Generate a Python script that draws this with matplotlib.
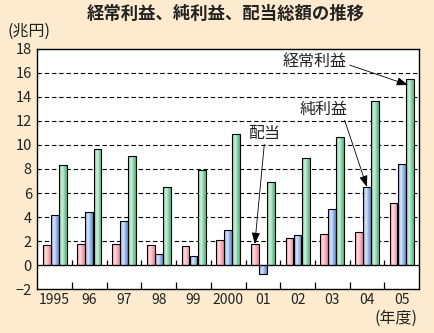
import numpy as np
import matplotlib
matplotlib.use("Agg")
import matplotlib.pyplot as plt
from matplotlib.colors import to_rgb

plt.rcParams['font.family'] = ['Noto Sans CJK JP', 'DejaVu Sans']

years = ["1995", "96", "97", "98", "99", "2000", "01", "02", "03", "04", "05"]
dividends = [1.67, 1.75, 1.75, 1.67, 1.58, 2.08, 1.75, 2.25, 2.6, 2.75, 5.17]
net_profit = [4.17, 4.42, 3.67, 0.92, 0.75, 2.92, -0.75, 2.5, 4.67, 6.5, 8.42]
ordinary_profit = [8.33, 9.67, 9.08, 6.5, 7.92, 10.92, 6.92, 8.92, 10.67, 13.67, 15.5]

title = "経常利益、純利益、配当総額の推移"
ylabel = "(兆円)"
xlabel = "(年度)"

bg = "#FDEBCF"
series = [
    (dividends, "#F08A9B", "#FFDDE2"),
    (net_profit, "#6890D6", "#DCE8FA"),
    (ordinary_profit, "#55B884", "#D4F2E0"),
]

fig = plt.figure(figsize=(4.34, 3.33), dpi=100, facecolor=bg)
ax = fig.add_axes([0.086, 0.1321, 0.8794, 0.7208])
ax.set_facecolor("white")

x = np.arange(len(years))
width = 0.225
offsets = [-0.232, 0.0, 0.235]

t = np.linspace(0, 1, 64)
prof = np.clip(1 - np.abs(t - 0.4) / 0.6, 0, 1) ** 1.3

for (vals, dark, light), off in zip(series, offsets):
    d = np.array(to_rgb(dark))
    l = np.array(to_rgb(light))
    grad = (d[None, :] * (1 - prof[:, None]) + l[None, :] * prof[:, None])[None, :, :]
    bars = ax.bar(x + off, vals, width=width, color=dark, edgecolor="black",
                  linewidth=0.8, zorder=3)
    for b in bars:
        x0 = b.get_x()
        y0 = b.get_y()
        h = b.get_height()
        im = ax.imshow(grad, extent=(x0, x0 + b.get_width(), y0, y0 + h),
                       aspect="auto", zorder=3.5, interpolation="bilinear")
        im.set_clip_path(b)
        b.set_facecolor("none")
        b.set_zorder(4)

ax.set_xlim(-0.5, len(years) - 0.5)
ax.set_ylim(-2, 18)

# grid
for gy in range(2, 18, 2):
    ax.axhline(gy, color="black", lw=0.8, ls=(0, (4, 2.5)), zorder=1)
ax.axhline(0, color="black", lw=0.9, zorder=5)

# ticks
ax.set_yticks(range(-2, 19, 2))
ax.set_yticklabels([f"{v}" if v >= 0 else f"\u2212{abs(v)}" for v in range(-2, 19, 2)])
ax.set_xticks(x)
ax.set_xticklabels(years)
ax.tick_params(axis="x", which="major", length=0, labelsize=10, pad=3, labelcolor="#222222")
ax.tick_params(axis="y", which="major", length=0, labelsize=10.5, pad=4, labelcolor="#222222")
ax.set_xticks(np.arange(0.5, len(years) - 0.5, 1), minor=True)
ax.tick_params(axis="x", which="minor", direction="in", length=5, width=0.9)
ax.vlines(np.arange(0.5, len(years) - 0.5, 1), 0, 0.42, color="black", lw=0.9, zorder=5)

for s in ax.spines.values():
    s.set_linewidth(1.0)

fig.text(0.521, 0.958, title, ha="center", va="center", fontsize=12.5, fontweight="bold",
         color="#222222")
fig.text(0.018, 0.906, ylabel, ha="left", va="center", fontsize=11.5, color="#222222")
fig.text(0.963, 0.043, xlabel, ha="right", va="center", fontsize=11.5, color="#222222")

arrow = dict(arrowstyle="-|>,head_length=0.6,head_width=0.22", color="black", lw=0.6,
             shrinkA=0, shrinkB=0)
i = len(years) - 1
ax.annotate("経常利益", xy=(x[i] + offsets[2] - 0.05, ordinary_profit[i] - 0.5),
            xytext=(7.5, 16.95), ha="center", va="center", fontsize=11.5, color="#222222",
            arrowprops=dict(arrow, relpos=(1.0, 0.35)), zorder=6)
ax.annotate("純利益", xy=(x[9] + offsets[1], net_profit[9]),
            xytext=(7.75, 13.0), ha="center", va="center", fontsize=11.5, color="#222222",
            arrowprops=dict(arrow, relpos=(0.92, 0.0)), zorder=6)
ax.annotate("配当", xy=(x[6] + offsets[0], dividends[6]),
            xytext=(6.05, 11.0), ha="center", va="center", fontsize=11.5, color="#222222",
            arrowprops=dict(arrow, relpos=(0.5, 0.0)), zorder=6)

fig.savefig("out.png", dpi=100, facecolor=bg)
